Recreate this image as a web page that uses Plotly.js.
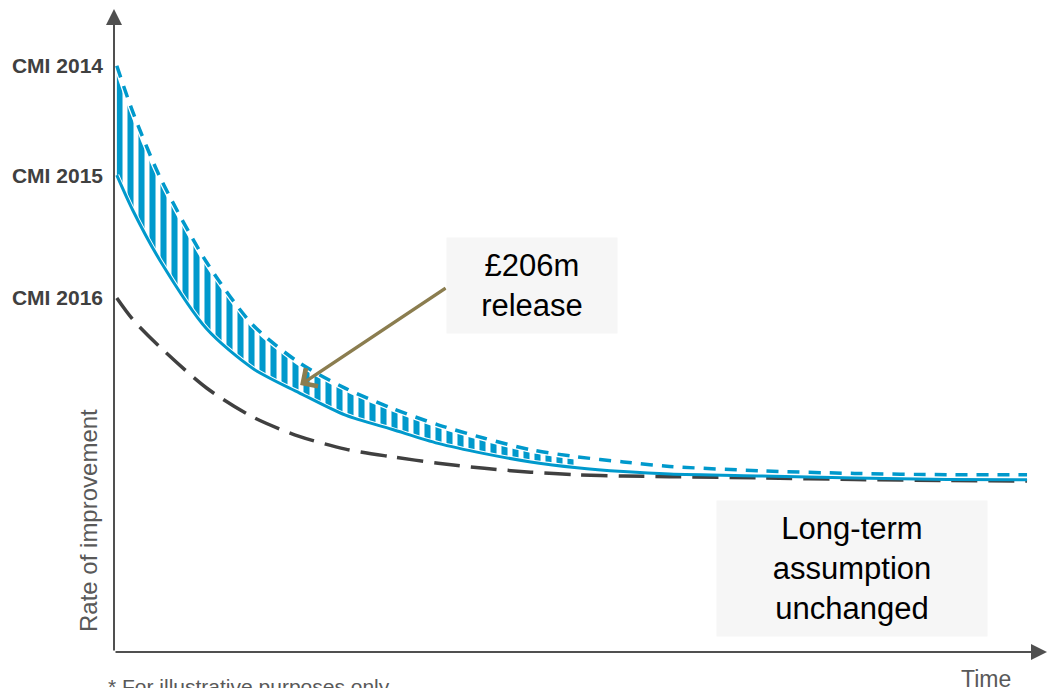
<!DOCTYPE html>
<html>
<head>
<meta charset="utf-8">
<script src="https://cdn.plot.ly/plotly-3.0.1.min.js"></script>
<style>
html,body{margin:0;padding:0;background:#fff;}
#chart{width:1048px;height:688px;}
</style>
</head>
<body>
<div id="chart"></div>
<script>
// ---- Data (illustrative curves) ----
const time    = [0.3, 2, 5, 10, 15, 20, 25, 30, 35, 40, 45, 50, 55, 60, 70, 80, 90, 98.6];
const cmi2014 = [91.6, 84.5, 74.1, 60.9, 51.1, 45.2, 41.2, 38.1, 35.5, 33.4, 31.6, 30.5, 29.7, 29.0, 28.3, 27.9, 27.7, 27.7];
const cmi2015 = [74.5, 69.1, 61.1, 50.5, 44.3, 40.5, 37.0, 34.8, 32.6, 31.0, 29.7, 28.8, 28.2, 27.8, 27.5, 27.2, 26.95, 26.9];
const cmi2016 = [55.3, 52.0, 47.6, 41.25, 36.7, 33.7, 31.7, 30.5, 29.5, 28.7, 28.1, 27.7, 27.5, 27.4, 27.2, 26.95, 26.8, 26.7];
const tickLabels = ['CMI 2014', 'CMI 2015', 'CMI 2016'];
const hatchEnd = 51;   // time up to which the released gap is hatched
const releaseText = '£206m<br>release';
const longTermText = 'Long-term<br>assumption<br>unchanged';

// ---- Build traces ----
const blue = '#0099cc';
const dark = '#404040';
const hx = [], hLow = [], hHigh = [];
time.forEach((t, i) => { if (t <= hatchEnd) { hx.push(t); hLow.push(cmi2015[i]); hHigh.push(cmi2014[i]); } });
const spl = {shape: 'spline', smoothing: 0.8};

const traces = [
  {x: hx, y: hLow, mode: 'lines', line: Object.assign({width: 0}, spl), hoverinfo: 'skip', showlegend: false},
  {x: hx, y: hHigh, mode: 'lines', line: Object.assign({width: 0}, spl), fill: 'tonexty',
   fillcolor: 'rgba(0,0,0,0)',
   fillpattern: {shape: '|', size: 11, solidity: 0.55, fgcolor: blue, bgcolor: 'rgba(0,0,0,0)'},
   hoverinfo: 'skip', showlegend: false},
  // white halos separating the hatch from the curves
  {x: hx, y: hLow, mode: 'lines', line: Object.assign({width: 5, color: '#ffffff'}, spl), hoverinfo: 'skip', showlegend: false},
  {x: hx, y: hHigh, mode: 'lines', line: Object.assign({width: 6, color: '#ffffff'}, spl), hoverinfo: 'skip', showlegend: false},
  {x: time, y: cmi2016, mode: 'lines', name: 'CMI 2016',
   line: Object.assign({color: dark, width: 3.5, dash: '26px,11px'}, spl)},
  {x: time, y: cmi2015, mode: 'lines', name: 'CMI 2015',
   line: Object.assign({color: blue, width: 3}, spl)},
  {x: time, y: cmi2014, mode: 'lines', name: 'CMI 2014',
   line: Object.assign({color: blue, width: 3.5, dash: '12px,9px'}, spl)}
];

const axisColor = '#505050';
const greyText = '#595959';
const font = 'Liberation Sans, Arial, sans-serif';

const layout = {
  width: 1048, height: 688,
  margin: {l: 114, r: 8, t: 12, b: 36},
  paper_bgcolor: '#ffffff', plot_bgcolor: '#ffffff',
  showlegend: false,
  font: {family: font},
  xaxis: {range: [0, 100], showgrid: false, zeroline: false, showline: false, showticklabels: false, ticks: '', fixedrange: true},
  yaxis: {range: [0, 100], showgrid: false, zeroline: false, showline: false, ticks: '',
          tickvals: [cmi2014[0], cmi2015[0], cmi2016[0]],
          ticktext: tickLabels.map(s => '<b>' + s + '</b>'),
          tickfont: {family: font, size: 21, color: '#404040'},
          ticklabelstandoff: 10, fixedrange: true},
  annotations: [
    // y axis with arrow head
    {xref: 'paper', yref: 'paper', x: 0, y: (652 - 9) / 640, ax: 0, ay: 643, axref: 'pixel', ayref: 'pixel',
     text: '', showarrow: true, arrowhead: 2, arrowsize: 1.6, arrowwidth: 2, arrowcolor: axisColor},
    // x axis with arrow head
    {xref: 'paper', yref: 'paper', x: (1048 - 114) / 926, y: 0, ax: -934, ay: 0,
     text: '', showarrow: true, arrowhead: 2, arrowsize: 1.6, arrowwidth: 2, arrowcolor: axisColor},
    // release pointer
    {xref: 'x', yref: 'y', x: 20.1, y: 41.7, ax: 147, ay: -98, text: '', showarrow: true,
     arrowhead: 4, arrowsize: 1.2, arrowwidth: 3.5, arrowcolor: '#8b7d4f'},
    // release box
    {xref: 'paper', yref: 'paper', x: (532 - 114) / 926, y: (652 - 285.5) / 640, xanchor: 'center', yanchor: 'middle',
     text: releaseText, showarrow: false, bgcolor: '#f6f6f6', width: 170, height: 95, borderpad: 0,
     font: {family: font, size: 31, color: '#000000'}},
    // long-term box
    {xref: 'paper', yref: 'paper', x: (852 - 114) / 926, y: (652 - 568.5) / 640, xanchor: 'center', yanchor: 'middle',
     text: longTermText, showarrow: false, bgcolor: '#f6f6f6', width: 270, height: 135, borderpad: 0,
     font: {family: font, size: 31, color: '#000000'}},
    // y axis title
    {xref: 'paper', yref: 'paper', x: (88 - 114) / 926, y: (652 - 521) / 640, xanchor: 'center', yanchor: 'middle',
     text: 'Rate of improvement', textangle: -90, showarrow: false, font: {family: font, size: 24, color: greyText}},
    // x axis title
    {xref: 'paper', yref: 'paper', x: (986 - 114) / 926, y: (652 - 679) / 640, xanchor: 'center', yanchor: 'middle',
     text: 'Time', showarrow: false, font: {family: font, size: 23, color: greyText}},
    // footnote
    {xref: 'paper', yref: 'paper', x: (106 - 114) / 926, y: (652 - 673) / 640, xanchor: 'left', yanchor: 'top',
     text: '* For illustrative purposes only', showarrow: false, font: {family: font, size: 21, color: greyText}}
  ]
};

Plotly.newPlot('chart', traces, layout, {displayModeBar: false, staticPlot: true});
</script>
</body>
</html>
